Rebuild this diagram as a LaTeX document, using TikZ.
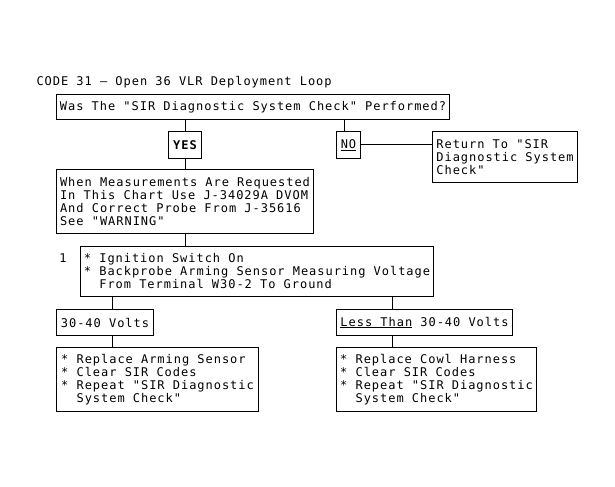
\documentclass[tikz,border=0pt]{standalone}
\usepackage{fontspec}
\setmainfont{DejaVu Sans Mono}[LetterSpace=8, Ligatures=TeXOff]
\begin{document}
\begin{tikzpicture}[x=1bp,y=-1bp,line width=1bp,
  every node/.style={font=\fontsize{12bp}{13bp}\selectfont},
  box/.style={draw, line width=1bp, anchor=north west, align=left, inner xsep=2bp, inner ysep=0pt},
  lbl/.style={inner sep=0pt},
  conn/.style={draw, line width=1bp}]
\fill[white] (0,0) rectangle (615,487);
\useasboundingbox (0,0) rectangle (615,487);

\node[lbl, anchor=base west] (title) at (36,86) {CODE 31 – Open 36 VLR Deployment Loop};
\node[box, minimum width=393bp, minimum height=25bp] (q) at (56,94) {Was The "SIR Diagnostic System Check" Performed?};
\node[box, minimum width=33bp, minimum height=27bp, font=\fontsize{12bp}{13bp}\selectfont\bfseries] (yes) at (168,131) {YES};
\node[box, minimum width=24bp, minimum height=27bp] (no) at (336,131) {\underline{NO}};
\node[box, minimum width=145bp, minimum height=51bp] (ret) at (432,131) {Return To "SIR\\Diagnostic System\\Check"};
\node[box, minimum width=257bp, minimum height=64bp] (when) at (56,169) {When Measurements Are Requested\\In This Chart Use J-34029A DVOM\\And Correct Probe From J-35616\\See "WARNING"};
\node[box, minimum width=353bp, minimum height=50bp] (b2) at (80,246) {* Ignition Switch On\\* Backprobe Arming Sensor Measuring Voltage\\\phantom{*} From Terminal W30-2 To Ground};
\node[lbl] (one) at (63,258) {1};
\node[box, minimum width=97bp, minimum height=26bp] (v1) at (56,309) {30-40 Volts};
\node[box, minimum width=202bp, minimum height=64bp] (a1) at (56,347) {* Replace Arming Sensor\\* Clear SIR Codes\\* Repeat "SIR Diagnostic\\\phantom{*} System Check"};
\node[box, minimum width=176bp, minimum height=26bp] (v2) at (336,309) {\underline{Less Than} 30-40 Volts};
\node[box, minimum width=200bp, minimum height=64bp] (a2) at (336,347) {* Replace Cowl Harness\\* Clear SIR Codes\\* Repeat "SIR Diagnostic\\\phantom{*} System Check"};

\coordinate (nx) at (344,131);
\coordinate (lx) at (112,0);
\coordinate (rx) at (392,0);
\draw[conn] (yes.north) -- (yes.north |- q.south);
\draw[conn] (yes.south) -- (yes.south |- when.north);
\draw[conn] (nx |- no.north) -- (nx |- q.south);
\draw[conn] (no.east) -- (no.east -| ret.west);
\draw[conn] (when.south) -- (when.south |- b2.north);
\draw[conn] (lx |- b2.south) -- (lx |- v1.north);
\draw[conn] (lx |- v1.south) -- (lx |- a1.north);
\draw[conn] (rx |- b2.south) -- (rx |- v2.north);
\draw[conn] (rx |- v2.south) -- (rx |- a2.north);
\end{tikzpicture}
\end{document}
